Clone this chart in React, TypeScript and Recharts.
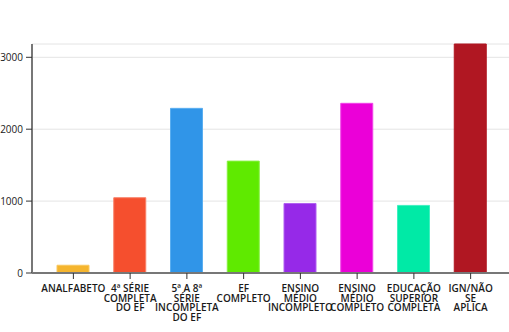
import { BarChart, Bar, XAxis, YAxis, CartesianGrid, Cell } from 'recharts';

// Escolaridade categories and counts
const categories = [
  'ANALFABETO',
  '4ª SÉRIE COMPLETA DO EF',
  '5ª A 8ª SÉRIE INCOMPLETA DO EF',
  'EF COMPLETO',
  'ENSINO MÉDIO INCOMPLETO',
  'ENSINO MÉDIO COMPLETO',
  'EDUCAÇÃO SUPERIOR COMPLETA',
  'IGN/NÃO SE APLICA',
];
const labelLines = [
  ['ANALFABETO'],
  ['4ª SÉRIE', 'COMPLETA', 'DO EF'],
  ['5ª A 8ª', 'SÉRIE', 'INCOMPLETA', 'DO EF'],
  ['EF', 'COMPLETO'],
  ['ENSINO', 'MÉDIO', 'INCOMPLETO'],
  ['ENSINO', 'MÉDIO', 'COMPLETO'],
  ['EDUCAÇÃO', 'SUPERIOR', 'COMPLETA'],
  ['IGN/NÃO', 'SE', 'APLICA'],
];
const values = [108, 1047, 2290, 1556, 967, 2360, 940, 3185];
const yTicks = [0, 1000, 2000, 3000];

const COLORS = ['#f5b52e', '#f54f2e', '#3095e8', '#5fea00', '#9629e8', '#eb00d8', '#00eaa6', '#b01722'];
const STROKES = ['#f8c860', '#f88068', '#5aaef0', '#86f040', '#b060f0', '#f040e8', '#40f0c0', '#b01722'];

const data = categories.map((name, i) => ({ name, value: values[i], idx: i }));

function CategoryTick(props: any) {
  const { x, y, index } = props;
  const lines = labelLines[index] || [];
  return (
    <text
      x={x}
      y={y}
      textAnchor="middle"
      fill="#1a1a1a"
      fontSize={10}
      fontWeight={600}
      fontFamily="'Open Sans', sans-serif"
    >
      {lines.map((line, i) => (
        <tspan key={line + i} x={x} dy={i === 0 ? 11 : 9.5}>
          {line}
        </tspan>
      ))}
    </text>
  );
}

function ValueTick(props: any) {
  const { x, y, payload } = props;
  return (
    <text
      x={x}
      y={y}
      dy={3.5}
      textAnchor="end"
      fill="#1a1a1a"
      fontSize={10}
      fontFamily="'Open Sans', sans-serif"
    >
      {payload.value}
    </text>
  );
}

export default function App() {
  return (
    <div style={{ position: 'absolute', left: 0, top: 0, width: 509, height: 332, background: '#fff' }}>
      <BarChart
        width={509}
        height={332}
        data={data}
        margin={{ top: 44, right: 0, bottom: 0, left: 0 }}
        barSize={32}
        style={{ overflow: 'visible' }}
      >
        <CartesianGrid vertical={false} stroke="#e4e4e4" strokeWidth={1} />
        <XAxis
          dataKey="name"
          height={59}
          interval={0}
          padding={{ left: 13, right: 10 }}
          stroke="#777"
          strokeWidth={2}
          tickSize={6}
          tickLine={{ stroke: '#333', strokeWidth: 1 }}
          tick={<CategoryTick />}
        />
        <YAxis
          width={32}
          domain={[0, 'dataMax']}
          ticks={yTicks}
          stroke="#777"
          strokeWidth={2}
          tickSize={6}
          tickMargin={3}
          tickLine={{ stroke: '#333', strokeWidth: 1 }}
          tick={<ValueTick />}
        />
        <Bar dataKey="value" isAnimationActive={false}>
          {data.map((d) => (
            <Cell key={d.name} fill={COLORS[d.idx]} stroke={STROKES[d.idx]} strokeWidth={1} />
          ))}
        </Bar>
      </BarChart>
    </div>
  );
}
